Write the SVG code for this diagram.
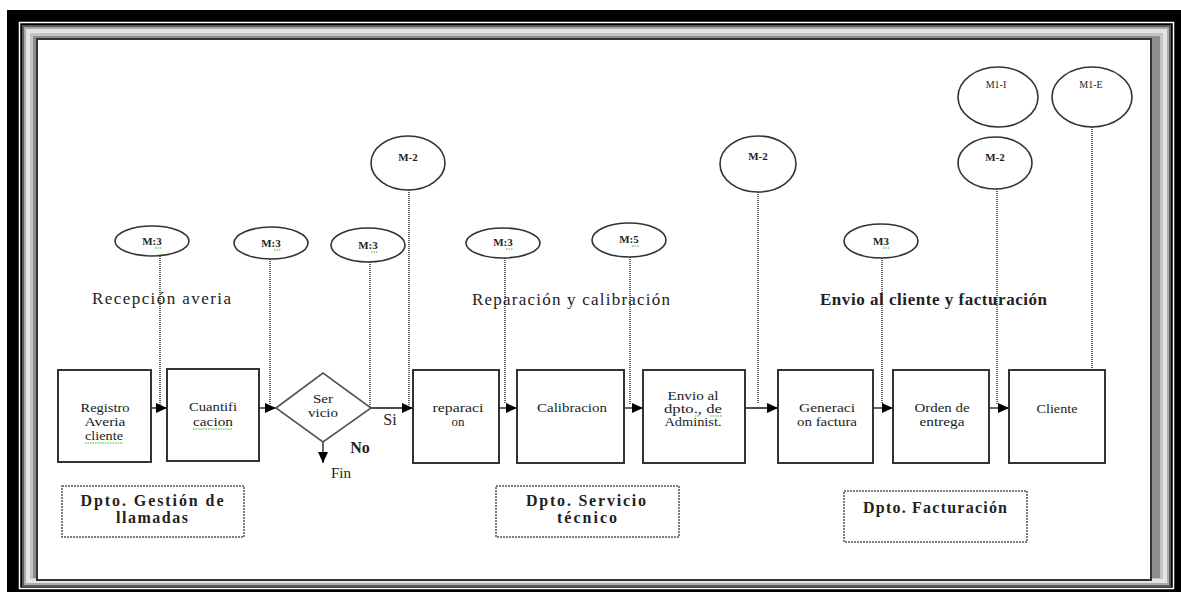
<svg xmlns="http://www.w3.org/2000/svg" width="1181" height="592" viewBox="0 0 1181 592">
<style>
.box{fill:#fff;stroke:#333;stroke-width:2}
.ov{fill:#fff;stroke:#333;stroke-width:1.6}
.t{font-family:"Liberation Serif","Times New Roman",serif;fill:#222;text-anchor:middle}
.bt{font-size:13px}
.st{font-size:12px}
.ot{font-size:11px;font-weight:bold}
.h{font-size:17px;text-anchor:start}
.d{font-size:16px;font-weight:bold}
.ar{stroke:#111;stroke-width:1.3;fill:none;marker-end:url(#ah)}
.dot{stroke:#666;stroke-width:2;stroke-dasharray:1 1;fill:none}
.dep{fill:none;stroke:#555;stroke-width:1.5;stroke-dasharray:2 1}
.sq{stroke:#3b3;stroke-width:1.2;stroke-dasharray:1.5 1;fill:none}
</style>
<defs>
<marker id="ah" markerUnits="userSpaceOnUse" markerWidth="12" markerHeight="10" refX="11" refY="5" orient="auto">
<path d="M0,0 L11,5 L0,10 z" fill="#000"/>
</marker>
</defs>
<g id="frame">
<rect x="7" y="10" width="1174" height="582" fill="#000"/>
<rect x="19.5" y="22.5" width="1154" height="566" fill="none" stroke="#fff" stroke-width="1.5"/>
<rect x="22" y="25" width="1149" height="562" fill="#5a5a5a"/>
<rect x="24" y="27" width="1145" height="558" fill="#aaa"/>
<rect x="26" y="29" width="1141" height="554" fill="#e4e4e4"/>
<rect x="30" y="33" width="1133" height="546" fill="#c4c4c4"/>
<rect x="33" y="36" width="1127" height="542" fill="#8e8e8e"/>
<rect x="37" y="39" width="1114" height="541" fill="#fff" stroke="#333" stroke-width="2"/>
</g>
<g id="connectors">
<line class="dot" x1="160" y1="256" x2="160" y2="405"/>
<line class="dot" x1="270" y1="259" x2="270" y2="405"/>
<line class="dot" x1="370" y1="262" x2="370" y2="407"/>
<line class="dot" x1="409" y1="190" x2="409" y2="405"/>
<line class="dot" x1="505" y1="258" x2="505" y2="404"/>
<line class="dot" x1="630" y1="257" x2="630" y2="404"/>
<line class="dot" x1="758" y1="192" x2="758" y2="404"/>
<line class="dot" x1="882" y1="258" x2="882" y2="404"/>
<line class="dot" x1="997" y1="189" x2="997" y2="404"/>
<line class="dot" x1="1092" y1="127" x2="1092" y2="370"/>
<line class="ar" x1="151" y1="408" x2="167" y2="408"/>
<line class="ar" x1="259" y1="408" x2="276" y2="408"/>
<line class="ar" x1="371" y1="408" x2="413" y2="408"/>
<line class="ar" x1="323" y1="442" x2="323" y2="463"/>
<line class="ar" x1="499" y1="408" x2="517" y2="408"/>
<line class="ar" x1="624" y1="408" x2="643" y2="408"/>
<line class="ar" x1="745" y1="408" x2="778" y2="408"/>
<line class="ar" x1="873" y1="408" x2="893" y2="408"/>
<line class="ar" x1="989" y1="408" x2="1009" y2="408"/>
</g>
<g id="n-registro">
<rect class="box" x="58" y="370" width="93" height="92"/>
<text class="t bt" x="105" y="412" textLength="49" lengthAdjust="spacingAndGlyphs">Registro</text>
<text class="t bt" x="105" y="426" textLength="41" lengthAdjust="spacingAndGlyphs">Averia</text>
<text class="t bt" x="104" y="440" textLength="38" lengthAdjust="spacingAndGlyphs">cliente</text>
<line class="sq" x1="85" y1="443" x2="123" y2="443"/>
</g>
<g id="n-cuantificacion">
<rect class="box" x="167" y="369" width="92" height="92"/>
<text class="t bt" x="213" y="411" textLength="48" lengthAdjust="spacingAndGlyphs">Cuantifi</text>
<text class="t bt" x="213" y="426" textLength="40" lengthAdjust="spacingAndGlyphs">cacion</text>
<line class="sq" x1="193" y1="429" x2="233" y2="429"/>
</g>
<g id="n-servicio">
<polygon points="276,408 323,373 371,408 323,442" fill="#fff" stroke="#555" stroke-width="1.6"/>
<text class="t st" x="323" y="403" textLength="20" lengthAdjust="spacingAndGlyphs">Ser</text>
<text class="t st" x="323" y="417" textLength="30" lengthAdjust="spacingAndGlyphs">vicio</text>
</g>
<g id="labels">
<text class="t" x="390" y="425" font-size="16">Si</text>
<text class="t" x="360" y="453" font-size="16" font-weight="bold">No</text>
<text class="t" x="341" y="478" font-size="15">Fin</text>
<text class="t h" x="92" y="304" textLength="139" lengthAdjust="spacing">Recepción averia</text>
<text class="t h" x="472" y="305" textLength="198" lengthAdjust="spacing">Reparación y calibración</text>
<text class="t h" x="820" y="305" font-weight="bold" textLength="227" lengthAdjust="spacing">Envio al cliente y facturación</text>
</g>
<g id="n-reparacion">
<rect class="box" x="413" y="370" width="86" height="93"/>
<text class="t bt" x="458" y="412" textLength="51" lengthAdjust="spacingAndGlyphs">reparaci</text>
<text class="t bt" x="458" y="426">on</text>
</g>
<g id="n-calibracion">
<rect class="box" x="517" y="370" width="107" height="93"/>
<text class="t bt" x="572" y="412" textLength="70" lengthAdjust="spacingAndGlyphs">Calibracion</text>
</g>
<g id="n-envio">
<rect class="box" x="643" y="370" width="102" height="93"/>
<text class="t st" x="693" y="400" textLength="51" lengthAdjust="spacingAndGlyphs">Envio al</text>
<text class="t st" x="693" y="413" textLength="58" lengthAdjust="spacingAndGlyphs">dpto., de</text>
<text class="t st" x="693" y="426" textLength="57" lengthAdjust="spacingAndGlyphs">Administ.</text>
<line class="sq" x1="695" y1="416" x2="700" y2="416"/>
<line class="sq" x1="710" y1="416" x2="722" y2="416"/>
</g>
<g id="n-generacion">
<rect class="box" x="778" y="370" width="95" height="93"/>
<text class="t bt" x="827" y="412" textLength="56" lengthAdjust="spacingAndGlyphs">Generaci</text>
<text class="t bt" x="827" y="426" textLength="60" lengthAdjust="spacingAndGlyphs">on factura</text>
</g>
<g id="n-orden">
<rect class="box" x="893" y="370" width="96" height="93"/>
<text class="t bt" x="942" y="412" textLength="55" lengthAdjust="spacingAndGlyphs">Orden de</text>
<text class="t bt" x="942" y="426" textLength="45" lengthAdjust="spacingAndGlyphs">entrega</text>
</g>
<g id="n-cliente">
<rect class="box" x="1009" y="370" width="96" height="93"/>
<text class="t bt" x="1057" y="413" textLength="41" lengthAdjust="spacingAndGlyphs">Cliente</text>
</g>
<g id="o-m3a"><ellipse class="ov" cx="152" cy="241" rx="37" ry="15"/><text class="t ot" x="152" y="245">M:3</text><line class="sq" x1="155" y1="248" x2="162" y2="248"/></g>
<g id="o-m3b"><ellipse class="ov" cx="271" cy="243" rx="37" ry="16"/><text class="t ot" x="271" y="247">M:3</text><line class="sq" x1="274" y1="250" x2="281" y2="250"/></g>
<g id="o-m3c"><ellipse class="ov" cx="368" cy="245" rx="37" ry="17"/><text class="t ot" x="368" y="249">M:3</text><line class="sq" x1="371" y1="252" x2="378" y2="252"/></g>
<g id="o-m2a"><ellipse class="ov" cx="408" cy="163" rx="37" ry="27"/><text class="t ot" x="408" y="161">M-2</text></g>
<g id="o-m3d"><ellipse class="ov" cx="503" cy="243" rx="37" ry="15"/><text class="t ot" x="503" y="246">M:3</text><line class="sq" x1="506" y1="249" x2="513" y2="249"/></g>
<g id="o-m5"><ellipse class="ov" cx="629" cy="240" rx="37" ry="17"/><text class="t ot" x="629" y="243">M:5</text><line class="sq" x1="632" y1="246" x2="639" y2="246"/></g>
<g id="o-m2b"><ellipse class="ov" cx="758" cy="164" rx="38" ry="28"/><text class="t ot" x="758" y="160">M-2</text></g>
<g id="o-m3e"><ellipse class="ov" cx="881" cy="241" rx="37" ry="17"/><text class="t ot" x="881" y="245">M3</text><line class="sq" x1="883" y1="248" x2="890" y2="248"/></g>
<g id="o-m2c"><ellipse class="ov" cx="995" cy="163" rx="37" ry="26"/><text class="t ot" x="995" y="161">M-2</text></g>
<g id="o-m1i"><ellipse class="ov" cx="998" cy="97" rx="40" ry="30"/><text class="t" font-size="10" x="996" y="88">M1-I</text></g>
<g id="o-m1e"><ellipse class="ov" cx="1092" cy="97" rx="40" ry="30"/><text class="t" font-size="10" x="1091" y="88">M1-E</text></g>
<g id="dep-llamadas">
<rect class="dep" x="62" y="486" width="182" height="51"/>
<text class="t d" x="152" y="506" textLength="143" lengthAdjust="spacing">Dpto. Gestión de</text>
<text class="t d" x="152" y="523" textLength="72" lengthAdjust="spacing">llamadas</text>
</g>
<g id="dep-tecnico">
<rect class="dep" x="496" y="486" width="183" height="51"/>
<text class="t d" x="586" y="506" textLength="120" lengthAdjust="spacing">Dpto. Servicio</text>
<text class="t d" x="587" y="523" textLength="60" lengthAdjust="spacing">técnico</text>
</g>
<g id="dep-facturacion">
<rect class="dep" x="844" y="491" width="183" height="51"/>
<text class="t d" x="935" y="513" font-weight="normal" textLength="144" lengthAdjust="spacing">Dpto. Facturación</text>
</g>
</svg>
